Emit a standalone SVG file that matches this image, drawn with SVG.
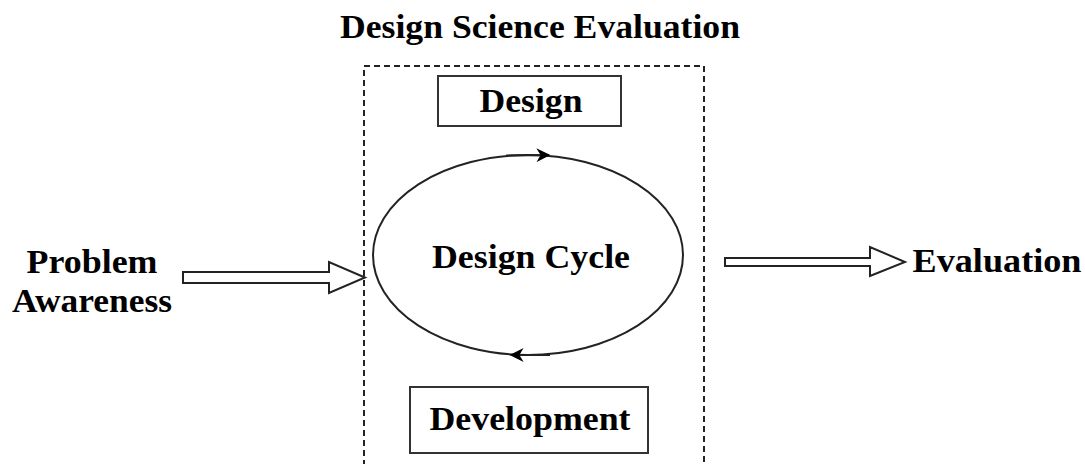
<svg xmlns="http://www.w3.org/2000/svg" width="1085" height="464" viewBox="0 0 1085 464">
<style>
text{font-family:"Liberation Serif","Times New Roman",serif;font-weight:bold;font-size:33px;fill:#000;text-anchor:middle}
.box{fill:#fff;stroke:#333;stroke-width:2}
.arr{fill:#fff;stroke:#222;stroke-width:2;stroke-linejoin:miter}
.cyc{fill:none;stroke:#222;stroke-width:2}
</style>
<defs>
<marker id="ah" viewBox="0 0 10 10" refX="9" refY="5" markerWidth="18" markerHeight="14" markerUnits="userSpaceOnUse" orient="auto">
<path d="M0,0 L10,5 L0,10 L3,5 Z" fill="#000"/>
</marker>
</defs>
<g id="title"><text x="540" y="38" textLength="400" lengthAdjust="spacingAndGlyphs">Design Science Evaluation</text></g>
<g id="frame"><rect x="364" y="66" width="340" height="420" fill="none" stroke="#222" stroke-width="2" stroke-dasharray="6,4"/></g>
<g id="design"><rect class="box" x="438" y="76" width="183" height="50"/><text x="531" y="112" textLength="103" lengthAdjust="spacingAndGlyphs">Design</text></g>
<g id="development"><rect class="box" x="410" y="387" width="238" height="66"/><text x="530" y="430" textLength="201" lengthAdjust="spacingAndGlyphs">Development</text></g>
<g id="cycle"><ellipse class="cyc" cx="528" cy="255" rx="155" ry="100"/><text x="531" y="268" textLength="198" lengthAdjust="spacingAndGlyphs">Design Cycle</text></g>
<g id="problem"><text x="92" y="273" textLength="131" lengthAdjust="spacingAndGlyphs">Problem</text><text x="92" y="312" textLength="160" lengthAdjust="spacingAndGlyphs">Awareness</text></g>
<g id="evaluation"><text x="997" y="272" textLength="169" lengthAdjust="spacingAndGlyphs">Evaluation</text></g>
<g id="connectors">
<path class="cyc" d="M506,155.5 L549,155" marker-end="url(#ah)"/>
<path class="cyc" d="M550,355 L511,355" marker-end="url(#ah)"/>
<path class="arr" d="M183,272 L329,272 L329,262 L365,277.5 L329,293 L329,283 L183,283 Z"/>
<path class="arr" d="M725,258 L870,258 L870,247 L905,262 L870,276 L870,266 L725,266 Z"/>
</g>
</svg>
